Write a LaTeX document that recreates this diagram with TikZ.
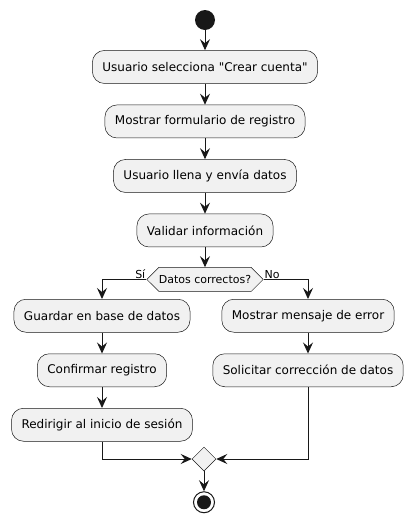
\documentclass[tikz,border=0pt]{standalone}
\usepackage{fontspec}
\setmainfont{DejaVu Sans}[Ligatures=TeXOff]
\usetikzlibrary{arrows.meta,shapes.geometric,shapes.symbols}
\definecolor{actfill}{HTML}{F1F1F1}
\definecolor{actline}{HTML}{181818}
\begin{document}
\begin{tikzpicture}[x=1pt,y=-1pt,
  act/.style={draw=actline,fill=actfill,line width=0.5pt,rounded corners=12pt,minimum height=33pt,inner xsep=10pt,font=\fontsize{12}{14}\selectfont},
  cond/.style={signal,signal to=west and east,signal pointer angle=90,draw=actline,fill=actfill,line width=0.5pt,minimum height=24pt,inner xsep=0pt,inner ysep=0pt,font=\fontsize{11}{13}\selectfont},
  lbl/.style={inner sep=1pt,font=\fontsize{11}{13}\selectfont},
  arr/.style={-{Stealth[length=11pt,width=10pt,inset=4pt]},line width=1pt,color=actline}]
\begin{scope}
\useasboundingbox (0,0) rectangle (413,523);

\node [circle,fill=actline,minimum size=20pt,inner sep=0pt] (node0) at (205,20) {};
\node [anchor=north,act](node1) at ([yshift=-20pt]node0.south) {Usuario selecciona "Crear cuenta"};
\draw[arr](node0.south)--(node1.north);
\node [anchor=north,act](node2) at ([yshift=-21pt]node1.south) {Mostrar formulario de registro};
\draw[arr](node1.south)--(node2.north);
\node [anchor=north,act](node3) at ([yshift=-21pt]node2.south) {Usuario llena y envía datos};
\draw[arr](node2.south)--(node3.north);
\node [anchor=north,act](node4) at ([yshift=-21pt]node3.south) {Validar información};
\draw[arr](node3.south)--(node4.north);

\node [anchor=north,cond](node5) at ([yshift=-20pt]node4.south) {Datos correctos?};
\draw[arr](node4.south)--(node5.north);
\node [anchor=south east,lbl](node5-1) at (node5.west) {Sí};
\node [anchor=south west,lbl](node5-2) at (node5.east) {No};

\node [anchor=north,act](node6) at (102,299) {Guardar en base de datos};
\draw[arr](node5.west)-|(node6.north);
\node [anchor=north,act](node7) at ([yshift=-21pt]node6.south) {Confirmar registro};
\draw[arr](node6.south)--(node7.north);
\node [anchor=north,act](node8) at ([yshift=-21pt]node7.south) {Redirigir al inicio de sesión};
\draw[arr](node7.south)--(node8.north);

\node [anchor=north,act](node9) at (308,299) {Mostrar mensaje de error};
\draw[arr](node5.east)-|(node9.north);
\node [anchor=north,act](node10) at ([yshift=-21pt]node9.south) {Solicitar corrección de datos};
\draw[arr](node9.south)--(node10.north);

\node [diamond,draw=actline,fill=actfill,line width=0.5pt,minimum width=24pt,minimum height=24pt,inner sep=0pt](node11) at (204,459) {};
\draw[arr](node8.south)|-(node11.west);
\draw[arr](node10.south)|-(node11.east);

\node [anchor=north,circle,draw=actline,line width=1pt,minimum size=21pt,inner sep=0pt](node12) at ([yshift=-20pt]node11.south) {};
\node [circle,fill=actline,minimum size=14pt,inner sep=0pt](node12-1) at (node12.center) {};
\draw[arr](node11.south)--(node12.north);

\end{scope}
\end{tikzpicture}
\end{document}
